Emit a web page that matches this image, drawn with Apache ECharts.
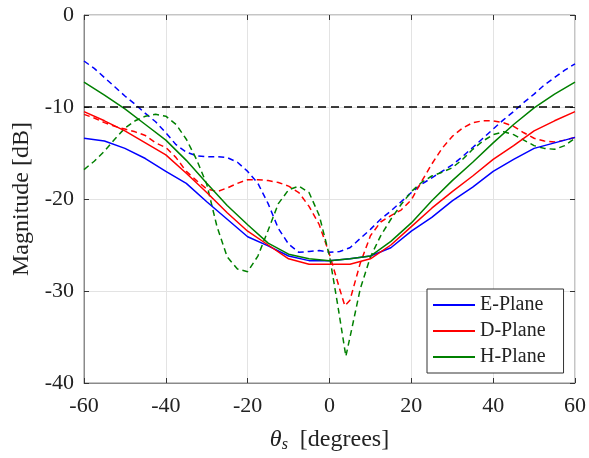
<!DOCTYPE html>
<html>
<head>
<meta charset="utf-8">
<script src="https://cdn.jsdelivr.net/npm/echarts@6/dist/echarts.min.js"></script>
<style>html,body{margin:0;padding:0;background:#fff}#c{width:589px;height:458px}</style>
</head>
<body>
<div id="c"></div>
<script>
// ---- data ----
const xSolid = [-60,-55,-50,-45,-40,-35,-30,-25,-20,-15,-10,-5,0,5,10,15,20,25,30,35,40,45,50,55,60];
const eSolid = [-13.4,-13.7,-14.5,-15.6,-17.0,-18.3,-20.3,-22.2,-24.1,-25.1,-26.2,-26.7,-26.7,-26.5,-26.2,-25.3,-23.5,-22.0,-20.2,-18.7,-17.0,-15.7,-14.5,-13.9,-13.3];
const dSolid = [-10.5,-11.5,-12.6,-13.9,-15.2,-17.2,-19.3,-21.5,-23.5,-25.0,-26.5,-27.1,-27.1,-27.1,-26.5,-25.0,-23.0,-21.0,-19.2,-17.5,-15.7,-14.2,-12.6,-11.5,-10.5];
const hSolid = [-7.3,-8.7,-10.2,-11.9,-13.6,-15.8,-18.3,-20.7,-22.8,-24.8,-26.0,-26.5,-26.7,-26.5,-26.2,-24.6,-22.6,-20.2,-18.0,-16.0,-13.9,-11.9,-10.1,-8.6,-7.3];

const xEDash = [-60,-57.5,-55,-52.5,-50,-47.5,-45,-42.5,-40,-37.5,-35,-32.5,-30,-27.5,-25,-22.5,-20,-17.5,-15,-12.5,-10,-7.5,-5,-2.5,0,2.5,5,7.5,10,12.5,15,17.5,20,22.5,25,27.5,30,32.5,35,37.5,40,42.5,45,47.5,50,52.5,55,57.5,60];
const eDash = [-5.0,-5.8,-6.8,-7.8,-8.8,-9.7,-10.7,-11.6,-12.8,-14.1,-14.9,-15.3,-15.4,-15.4,-15.5,-16.0,-17.0,-18.3,-20.5,-23.2,-24.9,-25.8,-25.7,-25.6,-25.8,-25.7,-25.3,-24.3,-23.3,-22.2,-21.3,-20.3,-19.3,-18.4,-17.7,-17.0,-16.3,-15.4,-14.4,-13.4,-12.4,-11.4,-10.5,-9.5,-8.6,-7.6,-6.8,-6.0,-5.3];

const xDDash = [-60,-57.5,-55,-52.5,-50,-47.5,-45,-42.5,-40,-37.5,-35,-32.5,-30,-27.5,-25,-22.5,-20,-17.5,-15,-12.5,-10,-7.5,-5,-2.5,0,2.5,3.75,5,7.5,10,12.5,15,17.5,20,22.5,25,27.5,30,32.5,35,37.5,40,42.5,45,47.5,50,52.5,55,57.5,60];
const dDash = [-10.8,-11.2,-11.7,-12.1,-12.4,-12.7,-13.1,-13.9,-14.4,-15.5,-17.0,-18.0,-18.9,-19.2,-18.8,-18.3,-17.9,-17.9,-18.0,-18.2,-18.6,-19.3,-20.8,-22.8,-26.0,-29.8,-31.6,-31.0,-27.0,-24.0,-22.5,-21.8,-21.2,-20.1,-18.1,-16.2,-14.5,-13.2,-12.3,-11.7,-11.5,-11.5,-11.7,-12.1,-12.8,-13.4,-13.7,-13.8,-13.6,-13.3];

const xHDash = [-60,-57.5,-55,-52.5,-50,-47.5,-45,-42.5,-40,-37.5,-35,-32.5,-30,-27.5,-25,-22.5,-20,-17.5,-15,-12.5,-10,-7.5,-5,-2.5,0,2,4,5.5,7.5,10,12.5,15,17.5,20,22.5,25,27.5,30,32.5,35,37.5,40,42.5,45,47.5,50,52.5,55,57.5,60];
const hDash = [-16.8,-15.9,-14.8,-13.5,-12.3,-11.5,-11.0,-10.8,-11.0,-11.9,-13.5,-15.7,-18.4,-23.0,-26.3,-27.6,-27.9,-26.2,-23.4,-20.5,-19.0,-18.6,-19.3,-21.8,-26.2,-31.5,-37.1,-34.0,-29.8,-26.3,-24.0,-22.2,-20.6,-19.2,-18.2,-17.5,-17.1,-16.6,-15.7,-14.6,-13.7,-13.0,-12.7,-13.0,-13.6,-14.2,-14.5,-14.6,-14.2,-13.4];

const refLevel = -10;
const xTicks = [-60,-40,-20,0,20,40,60];
const yTicks = [-40,-30,-20,-10,0];
const legendNames = ['E-Plane','D-Plane','H-Plane'];

// ---- chart ----
const zip = (xs, ys) => xs.map((x, i) => [x, ys[i]]);
const FONT = '"Liberation Serif", "Times New Roman", serif';
const BLUE = '#0000ff', RED = '#ff0000', GREEN = '#008000';
const dash = [6, 4];

const chart = echarts.init(document.getElementById('c'), null, {renderer: 'canvas'});
const solid = (name, data, color) => ({
  name, type: 'line', data, symbol: 'none', z: 3,
  lineStyle: {color, width: 1.5}, itemStyle: {color}, animation: false
});
const dashed = (name, data, color) => ({
  name, type: 'line', data, symbol: 'none', z: 2,
  lineStyle: {color, width: 1.5, type: dash}, itemStyle: {color}, animation: false
});

chart.setOption({
  animation: false,
  backgroundColor: '#fff',
  grid: {left: 84, right: 14, top: 15, bottom: 74, show: true, borderColor: '#8a8a8a', borderWidth: 1, containLabel: false},
  legend: {
    data: legendNames.map(n => ({name: n, icon: 'rect'})), orient: 'vertical', left: 427, top: 289,
    itemWidth: 42, itemHeight: 2, itemGap: 6,
    padding: [6, 18, 6, 6],
    backgroundColor: '#fff', borderColor: '#333', borderWidth: 1,
    textStyle: {fontFamily: FONT, fontSize: 20, color: '#222', lineHeight: 20},
    selectedMode: false
  },
  xAxis: [{
    type: 'value', min: -60, max: 60, interval: 20,
    axisLine: {onZero: false, lineStyle: {color: '#8a8a8a'}},
    axisTick: {inside: true, length: 5, lineStyle: {color: '#333'}},
    axisLabel: {fontFamily: FONT, fontSize: 22, color: '#222', margin: 12},
    splitLine: {show: true, lineStyle: {color: '#e3e3e3', width: 1}},
    name: '{t|θ}{s|s}{r|  [degrees]}', nameLocation: 'middle', nameGap: 44,
    nameTextStyle: {fontFamily: FONT, fontSize: 24, color: '#222',
      rich: {t: {fontFamily: FONT, fontSize: 24, fontStyle: 'italic', color: '#222'},
             s: {fontFamily: FONT, fontSize: 16, fontStyle: 'italic', color: '#222', verticalAlign: 'bottom', padding: [10,0,0,0]},
             r: {fontFamily: FONT, fontSize: 24, color: '#222'}}}
  }, {
    type: 'value', min: -60, max: 60, interval: 20, position: 'top',
    axisLine: {show: false, onZero: false}, axisTick: {inside: true, length: 5, lineStyle: {color: '#333'}},
    axisLabel: {show: false}, splitLine: {show: false}
  }],
  yAxis: [{
    type: 'value', min: -40, max: 0, interval: 10,
    axisLine: {show: true, onZero: false, lineStyle: {color: '#8a8a8a'}},
    axisTick: {show: true, inside: true, length: 5, lineStyle: {color: '#333'}},
    axisLabel: {fontFamily: FONT, fontSize: 22, color: '#222', margin: 10},
    splitLine: {show: true, lineStyle: {color: '#e3e3e3', width: 1}},
    name: 'Magnitude [dB]', nameLocation: 'middle', nameGap: 49,
    nameTextStyle: {fontFamily: FONT, fontSize: 24, color: '#222'}
  }, {
    type: 'value', min: -40, max: 0, interval: 10, position: 'right',
    axisLine: {show: false, onZero: false}, axisTick: {show: true, inside: true, length: 5, lineStyle: {color: '#333'}},
    axisLabel: {show: false}, splitLine: {show: false}
  }],
  series: [
    dashed('E-dash', zip(xEDash, eDash), BLUE),
    dashed('D-dash', zip(xDDash, dDash), RED),
    dashed('H-dash', zip(xHDash, hDash), GREEN),
    solid('E-Plane', zip(xSolid, eSolid), BLUE),
    solid('D-Plane', zip(xSolid, dSolid), RED),
    solid('H-Plane', zip(xSolid, hSolid), GREEN),
    {name: 'ref', type: 'line', symbol: 'none', z: 4, data: [[-60, refLevel], [60, refLevel]],
     lineStyle: {color: '#000', width: 1.5, type: [8, 5]}, animation: false}
  ]
});
</script>
</body>
</html>
